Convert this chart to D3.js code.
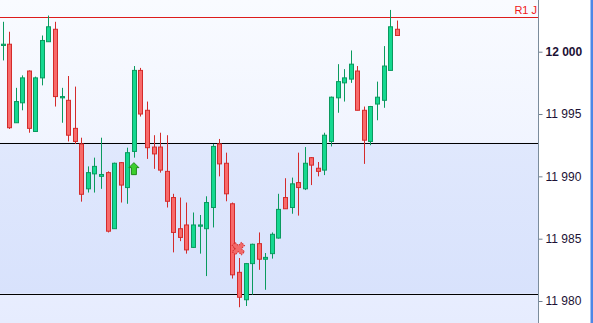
<!DOCTYPE html>
<html lang="en">
  <head>
    <meta charset="UTF-8" />
    <title>Candles</title>
    <script src="https://cdn.jsdelivr.net/npm/d3@7"></script>
    <style>
      body { margin: 0; background: #fff; }
      svg { display: block; }
      .tick text { font-family: "Liberation Sans", Arial, sans-serif; font-size: 12px; fill: #1c1235; }
    </style>
  </head>
  <body>
    <svg id="chart" width="593" height="323"></svg>
    <script>
      // candle data, oldest first
      let opens = [12000.5, 12000.6, 11994.3, 11995.9, 11998.45, 11993.6, 11997.9, 12000.8, 12001.8, 11996.3,
        11996.1, 11993.85, 11992.6, 11989.0, 11990.2, 11990.0, 11990.3, 11985.8, 11991.1, 11989.1,
        11992.0, 11998.5, 11995.3, 11992.35, 11992.35, 11990.4, 11988.3, 11985.8, 11986.1, 11984.3,
        11986.0, 11985.8, 11987.5, 11992.6, 11991.05, 11987.8, 11982.3, 11980.1, 11983.0, 11984.6,
        11983.35, 11983.8, 11985.05, 11988.3, 11987.5, 11989.5, 11989.0, 11991.5, 11990.65, 11990.5,
        11992.8, 11996.3, 11997.5, 11997.8, 11998.45, 11995.3, 11992.8, 11995.8, 11996.1, 11998.5,
        12001.8];
      let highs = [12002.4, 12001.6, 11997.1, 11998.1, 11998.5, 11998.0, 12001.3, 12002.9, 12002.4, 11997.1,
        11998.05, 11997.2, 11993.1, 11990.8, 11991.5, 11993.1, 11990.4, 11991.1, 11991.15, 11992.3,
        11998.85, 11998.7, 11996.0, 11993.3, 11993.5, 11993.3, 11988.6, 11988.3, 11987.9, 11987.1,
        11986.9, 11988.4, 11992.6, 11993.0, 11991.9, 11987.9, 11983.45, 11983.05, 11984.6, 11985.5,
        11983.85, 11985.5, 11988.6, 11989.85, 11989.9, 11991.9, 11992.35, 11991.55, 11991.15, 11993.5,
        11996.4, 11999.0, 11998.6, 12000.1, 11998.85, 11995.6, 11995.65, 11997.6, 12000.45, 12003.35,
        12002.5];
      let lows = [11999.3, 11993.8, 11994.3, 11995.3, 11993.5, 11993.6, 11997.3, 12000.8, 11995.6, 11994.3,
        11992.8, 11992.6, 11987.97, 11988.7, 11988.7, 11989.0, 11985.5, 11985.8, 11987.9, 11987.8,
        11991.5, 11994.8, 11991.4, 11990.6, 11990.3, 11987.5, 11983.9, 11984.8, 11983.8, 11984.25,
        11983.8, 11982.0, 11985.9, 11990.0, 11988.0, 11981.8, 11979.5, 11979.6, 11980.5, 11982.5,
        11980.9, 11983.4, 11985.0, 11987.4, 11987.0, 11986.85, 11988.9, 11989.3, 11990.0, 11990.1,
        11992.4, 11995.1, 11996.0, 11997.5, 11995.3, 11991.0, 11992.5, 11994.5, 11995.5, 11998.5,
        12001.3];
      let closes = [12000.6, 11993.9, 11996.0, 11997.9, 11993.85, 11997.9, 12000.9, 12002.0, 11996.4, 11996.4,
        11993.3, 11992.8, 11988.56, 11990.3, 11990.8, 11990.15, 11985.6, 11991.05, 11989.3, 11991.9,
        11998.5, 11995.0, 11992.3, 11991.8, 11990.5, 11988.0, 11985.5, 11985.1, 11984.1, 11986.1,
        11986.1, 11987.9, 11992.4, 11991.0, 11988.6, 11982.1, 11980.3, 11983.0, 11984.55, 11983.35,
        11983.5, 11985.35, 11987.35, 11987.4, 11989.4, 11989.1, 11991.05, 11990.9, 11990.4, 11993.3,
        11996.35, 11997.6, 11997.9, 11999.0, 11995.3, 11992.9, 11995.6, 11996.35, 11998.85, 12002.0,
        12001.3];

      // horizontal levels
      let levelValues = [12002.8, 11992.7, 11980.6];
      let levelColors = ["#dd1c1c", "#000000", "#000000"];
      let levelLabel = "R1 J";

      // signal markers (candle index, price)
      let buyIndex = 20, buyPrice = 11991.1;
      let stopIndex = 36, stopPrice = 11984.2;

      let tickValues = [11980, 11985, 11990, 11995, 12000];

      let W = 593, H = 323, plotRight = 538.5;
      let svg = d3.select("#chart");

      let x = d3.scaleLinear().domain([0, 60]).range([2.5, 396.7]);
      let y = d3.scaleLinear().domain([11980, 12000]).range([301, 51.7]);

      let defs = svg.append("defs");
      let bg = defs.append("linearGradient").attr("id", "bg").attr("x1", 0).attr("y1", 0).attr("x2", 0).attr("y2", 1);
      bg.append("stop").attr("offset", "0%").attr("stop-color", "#f9fbff");
      bg.append("stop").attr("offset", "100%").attr("stop-color", "#e6ecfe");
      let band = defs.append("linearGradient").attr("id", "band").attr("x1", 0).attr("y1", 0).attr("x2", 0).attr("y2", 1);
      band.append("stop").attr("offset", "0%").attr("stop-color", "#e0e8fd");
      band.append("stop").attr("offset", "100%").attr("stop-color", "#d8e2fc");

      svg.append("rect").attr("width", W).attr("height", H).attr("fill", "#fff");
      svg.append("rect").attr("width", plotRight).attr("height", H).attr("fill", "url(#bg)");
      svg.append("rect")
        .attr("x", 0).attr("y", y(levelValues[1]))
        .attr("width", plotRight).attr("height", y(levelValues[2]) - y(levelValues[1]))
        .attr("fill", "url(#band)");

      // blue strip at right edge
      svg.append("rect").attr("x", 590.5).attr("y", 0).attr("width", 3).attr("height", H).attr("fill", "#4d87e6");

      // levels
      svg.selectAll(".level").data(levelValues).join("line")
        .attr("x1", 0).attr("x2", plotRight)
        .attr("y1", d => Math.round(y(d)) + 0.5).attr("y2", d => Math.round(y(d)) + 0.5)
        .attr("stroke", (d, i) => levelColors[i]).attr("stroke-width", 1.2)
        .attr("shape-rendering", "crispEdges");

      svg.append("text")
        .attr("x", 537).attr("y", 14)
        .attr("text-anchor", "end")
        .style("font-family", "Liberation Sans, Arial, sans-serif")
        .style("font-size", "11px")
        .attr("fill", "#f01818")
        .text(levelLabel);

      // candles
      let idx = d3.range(opens.length);
      let up = i => closes[i] >= opens[i];
      let cx = i => Math.round(x(i)) + 0.5;
      let g = svg.append("g");

      g.selectAll(".wick").data(idx).join("line")
        .attr("x1", cx).attr("x2", cx)
        .attr("y1", i => y(highs[i])).attr("y2", i => y(lows[i]))
        .attr("stroke", i => up(i) ? "#0a9a5e" : "#d42b2b").attr("stroke-width", 1);

      g.selectAll(".body").data(idx).join("rect")
        .attr("x", i => cx(i) - 2)
        .attr("width", 4)
        .attr("y", i => y(Math.max(opens[i], closes[i])))
        .attr("height", i => Math.max(1, Math.abs(y(opens[i]) - y(closes[i]))))
        .attr("fill", i => up(i) ? "#14d890" : "#f86a6a")
        .attr("stroke", i => up(i) ? "#0a9a5e" : "#d42b2b").attr("stroke-width", 1);

      // buy arrow
      let ax = x(buyIndex), ay = y(buyPrice);
      svg.append("path")
        .attr("d", `M${ax},${ay} L${ax + 5},${ay + 5} L${ax + 2.5},${ay + 5} L${ax + 2.5},${ay + 12} L${ax - 2.5},${ay + 12} L${ax - 2.5},${ay + 5} L${ax - 5},${ay + 5} Z`)
        .attr("fill", "#3ccf2e").attr("stroke", "#1f8a1a").attr("stroke-width", 1);

      // stop cross
      let sx = x(stopIndex) - 0.7, sy = y(stopPrice);
      svg.append("path")
        .attr("d", d3.symbol().type(d3.symbolCross).size(95)())
        .attr("transform", `translate(${sx},${sy}) rotate(45)`)
        .attr("fill", "#f26a6a").attr("stroke", "#d43030")
        .attr("stroke-dasharray", "1.5,1").attr("stroke-width", 1);

      // right axis
      let axis = d3.axisRight(y)
        .tickValues(tickValues)
        .tickSize(4)
        .tickPadding(3)
        .tickFormat(d => d3.format(",")(d).replace(",", " "));
      let ag = svg.append("g").attr("transform", `translate(${plotRight},0)`).call(axis);
      ag.select(".domain").remove();
      ag.selectAll(".tick line").attr("stroke", "#6f7f90");
      ag.selectAll(".tick text").style("font-weight", d => d === 12000 ? "bold" : "normal");
      svg.append("line").attr("x1", plotRight).attr("x2", plotRight).attr("y1", 0).attr("y2", H)
        .attr("stroke", "#7b8c9c").attr("stroke-width", 1);
    </script>
  </body>
</html>
